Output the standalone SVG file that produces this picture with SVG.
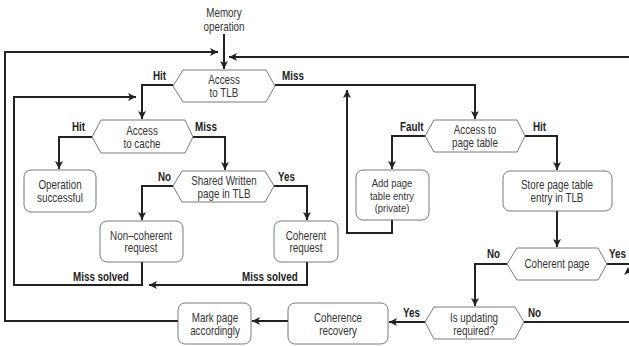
<svg xmlns="http://www.w3.org/2000/svg" width="629" height="346" viewBox="0 0 629 346">
<defs>
<marker id="ah" markerUnits="userSpaceOnUse" markerWidth="10" markerHeight="10" refX="8" refY="4" orient="auto">
<path d="M0,0 L8,4 L0,8 L2,4 Z" fill="#222"/>
</marker>
</defs>
<style>
.n{fill:#fff;stroke:#555;stroke-width:0.8}
.t{font-family:"Liberation Sans",Arial,sans-serif;font-size:12px;fill:#333;text-anchor:middle}
.s{font-size:10.5px}
.l{font-family:"Liberation Sans",Arial,sans-serif;font-size:12px;font-weight:bold;fill:#222}
.c{fill:none;stroke:#222;stroke-width:2}
</style>
<rect width="629" height="346" fill="#fff"/>
<g id="connectors">
<path class="c" d="M224,34 V69" marker-end="url(#ah)"/>
<path class="c" d="M178,321 H5 V52 H218" marker-end="url(#ah)"/>
<path class="c" d="M629,57 H229" marker-end="url(#ah)"/>
<path class="c" d="M173,85 H142 V119" marker-end="url(#ah)"/>
<path class="c" d="M275,85 H475 V119" marker-end="url(#ah)"/>
<path class="c" d="M92,137 H59 V169" marker-end="url(#ah)"/>
<path class="c" d="M193,137 H225 V170" marker-end="url(#ah)"/>
<path class="c" d="M173,186 H142 V220" marker-end="url(#ah)"/>
<path class="c" d="M274,186 H307 V220" marker-end="url(#ah)"/>
<path class="c" d="M142,262 V285 H14 V97 H136" marker-end="url(#ah)"/>
<path class="c" d="M307,262 V285 H149" marker-end="url(#ah)"/>
<path class="c" d="M425,136 H392 V169" marker-end="url(#ah)"/>
<path class="c" d="M392,220 V233 H347 V90" marker-end="url(#ah)"/>
<path class="c" d="M525,136 H557 V170" marker-end="url(#ah)"/>
<path class="c" d="M557,211 V247" marker-end="url(#ah)"/>
<path class="c" d="M507,264 H475 V306" marker-end="url(#ah)"/>
<path class="c" d="M607,264 H629"/>
<path class="c" d="M425,322 H389" marker-end="url(#ah)"/>
<path class="c" d="M524,322 H629"/>
<path class="c" d="M288,321 H252" marker-end="url(#ah)"/>
<path d="M624,275 L628,267 L632,275 L628,273 Z" fill="#222"/>
</g>
<g id="memop">
<text class="t" transform="translate(224,17) scale(0.82,1)">Memory</text>
<text class="t" transform="translate(224,31) scale(0.82,1)">operation</text>
</g>
<g id="tlb">
<polygon class="n" points="173,86 183,70 266,70 275,86 266,102 183,102"/>
<text class="t" transform="translate(224,84) scale(0.82,1)">Access</text>
<text class="t" transform="translate(224,97) scale(0.82,1)">to TLB</text>
</g>
<g id="cache">
<polygon class="n" points="92,137 101,120 185,120 193,137 185,153 101,153"/>
<text class="t" transform="translate(142,135) scale(0.82,1)">Access</text>
<text class="t" transform="translate(142,148) scale(0.82,1)">to cache</text>
</g>
<g id="opsucc">
<rect class="n" x="24" y="170" width="72" height="42" rx="7"/>
<text class="t" transform="translate(60,189) scale(0.82,1)">Operation</text>
<text class="t" transform="translate(60,202) scale(0.82,1)">successful</text>
</g>
<g id="shared">
<polygon class="n" points="173,186 182,171 265,171 274,186 265,202 182,202"/>
<text class="t" transform="translate(224,185) scale(0.82,1)">Shared Written</text>
<text class="t" transform="translate(224,198) scale(0.82,1)">page in TLB</text>
</g>
<g id="noncoh">
<rect class="n" x="100" y="221" width="83" height="41" rx="7"/>
<text class="t" transform="translate(141,240) scale(0.82,1)">Non–coherent</text>
<text class="t" transform="translate(141,252) scale(0.82,1)">request</text>
</g>
<g id="cohreq">
<rect class="n" x="274" y="221" width="64" height="41" rx="7"/>
<text class="t" transform="translate(306,240) scale(0.82,1)">Coherent</text>
<text class="t" transform="translate(306,252) scale(0.82,1)">request</text>
</g>
<g id="pagetable">
<polygon class="n" points="425,136 434,120 517,120 525,136 517,152 434,152"/>
<text class="t" transform="translate(475,134) scale(0.82,1)">Access to</text>
<text class="t" transform="translate(475,147) scale(0.82,1)">page table</text>
</g>
<g id="addpage">
<rect class="n" x="356" y="170" width="73" height="50" rx="7"/>
<text class="t s" transform="translate(392,187) scale(0.9,1)">Add page</text>
<text class="t s" transform="translate(392,199.5) scale(0.9,1)">table entry</text>
<text class="t s" transform="translate(392,212) scale(0.9,1)">(private)</text>
</g>
<g id="store">
<rect class="n" x="503" y="171" width="109" height="40" rx="7"/>
<text class="t" transform="translate(557,189) scale(0.82,1)">Store page table</text>
<text class="t" transform="translate(557,202) scale(0.82,1)">entry in TLB</text>
</g>
<g id="cohpage">
<polygon class="n" points="507,264 517,248 598,248 607,264 598,280 517,280"/>
<text class="t" transform="translate(557,268) scale(0.82,1)">Coherent page</text>
</g>
<g id="updating">
<polygon class="n" points="425,322 434,307 515,307 524,322 515,339 434,339"/>
<text class="t" transform="translate(474,322) scale(0.82,1)">Is updating</text>
<text class="t" transform="translate(474,335) scale(0.82,1)">required?</text>
</g>
<g id="cohrec">
<rect class="n" x="288" y="303" width="100" height="41" rx="7"/>
<text class="t" transform="translate(338,322) scale(0.82,1)">Coherence</text>
<text class="t" transform="translate(338,335) scale(0.82,1)">recovery</text>
</g>
<g id="markpage">
<rect class="n" x="178" y="303" width="73" height="41" rx="7"/>
<text class="t" transform="translate(215,322) scale(0.82,1)">Mark page</text>
<text class="t" transform="translate(215,335) scale(0.82,1)">accordingly</text>
</g>
<g id="labels">
<text class="l" transform="translate(153,80) scale(0.82,1)">Hit</text>
<text class="l" transform="translate(282,80) scale(0.82,1)">Miss</text>
<text class="l" transform="translate(72,131) scale(0.82,1)">Hit</text>
<text class="l" transform="translate(195,131) scale(0.82,1)">Miss</text>
<text class="l" transform="translate(158,181) scale(0.82,1)">No</text>
<text class="l" transform="translate(278,181) scale(0.82,1)">Yes</text>
<text class="l" transform="translate(73,281) scale(0.82,1)">Miss solved</text>
<text class="l" transform="translate(242,281) scale(0.82,1)">Miss solved</text>
<text class="l" transform="translate(400,131) scale(0.82,1)">Fault</text>
<text class="l" transform="translate(533,131) scale(0.82,1)">Hit</text>
<text class="l" transform="translate(487,258) scale(0.82,1)">No</text>
<text class="l" transform="translate(609,258) scale(0.82,1)">Yes</text>
<text class="l" transform="translate(403,317) scale(0.82,1)">Yes</text>
<text class="l" transform="translate(528,317) scale(0.82,1)">No</text>
</g>
</svg>
